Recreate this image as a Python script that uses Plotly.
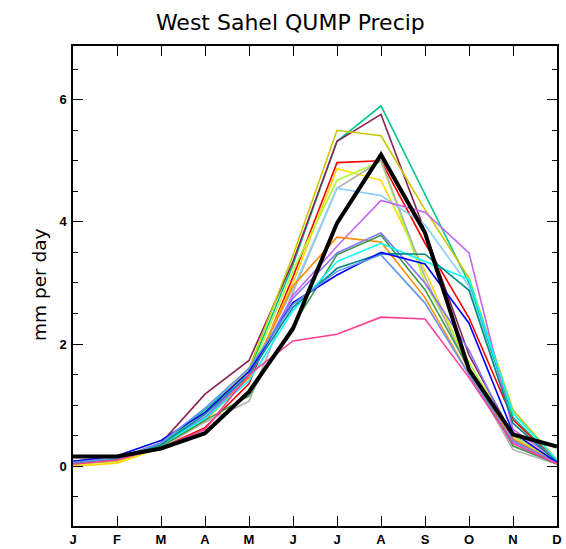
import plotly.graph_objects as go

months = ["J", "F", "M", "A", "M", "J", "J", "A", "S", "O", "N", "D"]
month_idx = list(range(12))

jade = [0.05, 0.10, 0.35, 0.92, 1.55, 3.30, 5.32, 5.90, 4.45, 3.00, 0.80, 0.08]
maroon = [0.05, 0.12, 0.38, 1.18, 1.73, 3.35, 5.32, 5.76, 3.84, 1.82, 0.50, 0.06]
olive = [0.03, 0.08, 0.33, 0.85, 1.60, 3.45, 5.50, 5.41, 4.20, 3.08, 0.92, 0.10]
red = [0.06, 0.12, 0.30, 0.63, 1.35, 3.10, 4.97, 5.00, 3.65, 2.43, 0.76, 0.08]
gold = [0.00, 0.05, 0.30, 0.75, 1.45, 3.00, 4.87, 4.68, 3.20, 1.60, 0.45, 0.05]
yellowgreen = [0.03, 0.10, 0.32, 0.80, 1.50, 3.20, 4.68, 4.99, 3.00, 1.70, 0.50, 0.05]
grey = [0.04, 0.10, 0.30, 0.72, 1.06, 2.85, 4.55, 5.00, 3.10, 1.55, 0.27, 0.03]
skyblue = [0.05, 0.12, 0.35, 0.85, 1.50, 2.90, 4.55, 4.43, 3.95, 2.95, 0.70, 0.08]
violet = [0.05, 0.12, 0.35, 0.80, 1.45, 2.80, 3.60, 4.35, 4.16, 3.49, 0.60, 0.10]
orange = [0.05, 0.10, 0.33, 0.75, 1.45, 2.95, 3.75, 3.67, 2.76, 1.50, 0.45, 0.05]
slateblue = [0.08, 0.13, 0.35, 0.80, 1.50, 2.75, 3.49, 3.82, 3.00, 1.90, 0.42, 0.05]
seagreen = [0.05, 0.12, 0.32, 0.75, 1.15, 2.30, 3.46, 3.78, 2.89, 1.60, 0.33, 0.04]
cyan = [0.05, 0.12, 0.35, 0.78, 1.40, 2.55, 3.35, 3.65, 3.35, 3.06, 0.87, 0.10]
teal = [0.05, 0.12, 0.35, 0.85, 1.50, 2.60, 3.24, 3.48, 3.47, 2.88, 0.70, 0.07]
blue = [0.08, 0.17, 0.42, 0.88, 1.55, 2.68, 3.13, 3.50, 3.31, 2.34, 0.55, 0.06]
cornflower = [0.06, 0.13, 0.38, 0.95, 1.60, 2.65, 3.19, 3.46, 2.67, 1.50, 0.40, 0.05]
pink = [0.03, 0.10, 0.30, 0.60, 1.50, 2.05, 2.16, 2.44, 2.41, 1.45, 0.37, 0.04]
observed = [0.16, 0.16, 0.29, 0.54, 1.22, 2.25, 3.98, 5.10, 3.82, 1.58, 0.52, 0.32]

ensemble = [
    (jade, "#00c78c"),
    (maroon, "#8b2252"),
    (olive, "#c8c800"),
    (red, "#ff0000"),
    (gold, "#ffd700"),
    (yellowgreen, "#adff2f"),
    (grey, "#b0b0b0"),
    (skyblue, "#87cefa"),
    (violet, "#c864f0"),
    (orange, "#ff8c00"),
    (slateblue, "#8470ff"),
    (seagreen, "#3a9a4a"),
    (cyan, "#00ffff"),
    (teal, "#008b8b"),
    (blue, "#0000ff"),
    (cornflower, "#6495ed"),
    (pink, "#ff3e96"),
]

fig = go.Figure()
for vals, col in ensemble:
    fig.add_trace(go.Scatter(x=month_idx, y=vals, mode="lines",
                             line=dict(color=col, width=1.6), showlegend=False,
                             hoverinfo="skip"))
fig.add_trace(go.Scatter(x=month_idx, y=observed, mode="lines",
                         line=dict(color="black", width=4), showlegend=False,
                         hoverinfo="skip"))

tickfont = dict(family="Liberation Sans, Arial, sans-serif", size=13,
                color="black", weight="bold")

fig.update_layout(
    width=566, height=549,
    margin=dict(l=73, r=9, t=46, b=23, autoexpand=False),
    paper_bgcolor="white", plot_bgcolor="white",
    title=dict(text="West Sahel QUMP Precip", x=0.513, xref="container",
               xanchor="center", y=1 - 22 / 549, yref="container",
               yanchor="middle", automargin=False,
               font=dict(family="DejaVu Sans", size=22, color="black")),
    xaxis=dict(range=[0, 11], tickmode="array", tickvals=month_idx,
               ticktext=months, ticks="inside", ticklen=10, tickwidth=1.3,
               tickcolor="black", showline=True, linecolor="black",
               linewidth=1.5, mirror="ticks", showgrid=False, zeroline=False,
               tickfont=tickfont, ticklabelstandoff=1, automargin=False),
    yaxis=dict(range=[-0.98, 6.88], tickmode="array", tickvals=[0, 2, 4, 6],
               ticktext=["0", "2", "4", "6"], ticks="inside", ticklen=10,
               tickwidth=1.3, tickcolor="black", showline=True,
               linecolor="black", linewidth=1.5, mirror="ticks",
               showgrid=False, zeroline=False, tickfont=tickfont,
               ticklabelstandoff=2, automargin=False,
               minor=dict(tickmode="linear", tick0=0, dtick=0.5,
                          ticks="inside", ticklen=5, tickwidth=1.3,
                          tickcolor="black", showgrid=False)),
    annotations=[dict(text="mm per day", xref="paper", yref="paper",
                      x=(39 - 73) / 484, y=(526 - 285) / 480,
                      xanchor="center", yanchor="middle", textangle=-90,
                      showarrow=False,
                      font=dict(family="DejaVu Sans", size=18.5,
                                color="black"))],
)

fig.write_html(
    "out.html",
    config={"displayModeBar": False},
    post_script="document.body.style.margin='0';document.body.style.padding='0';",
)
